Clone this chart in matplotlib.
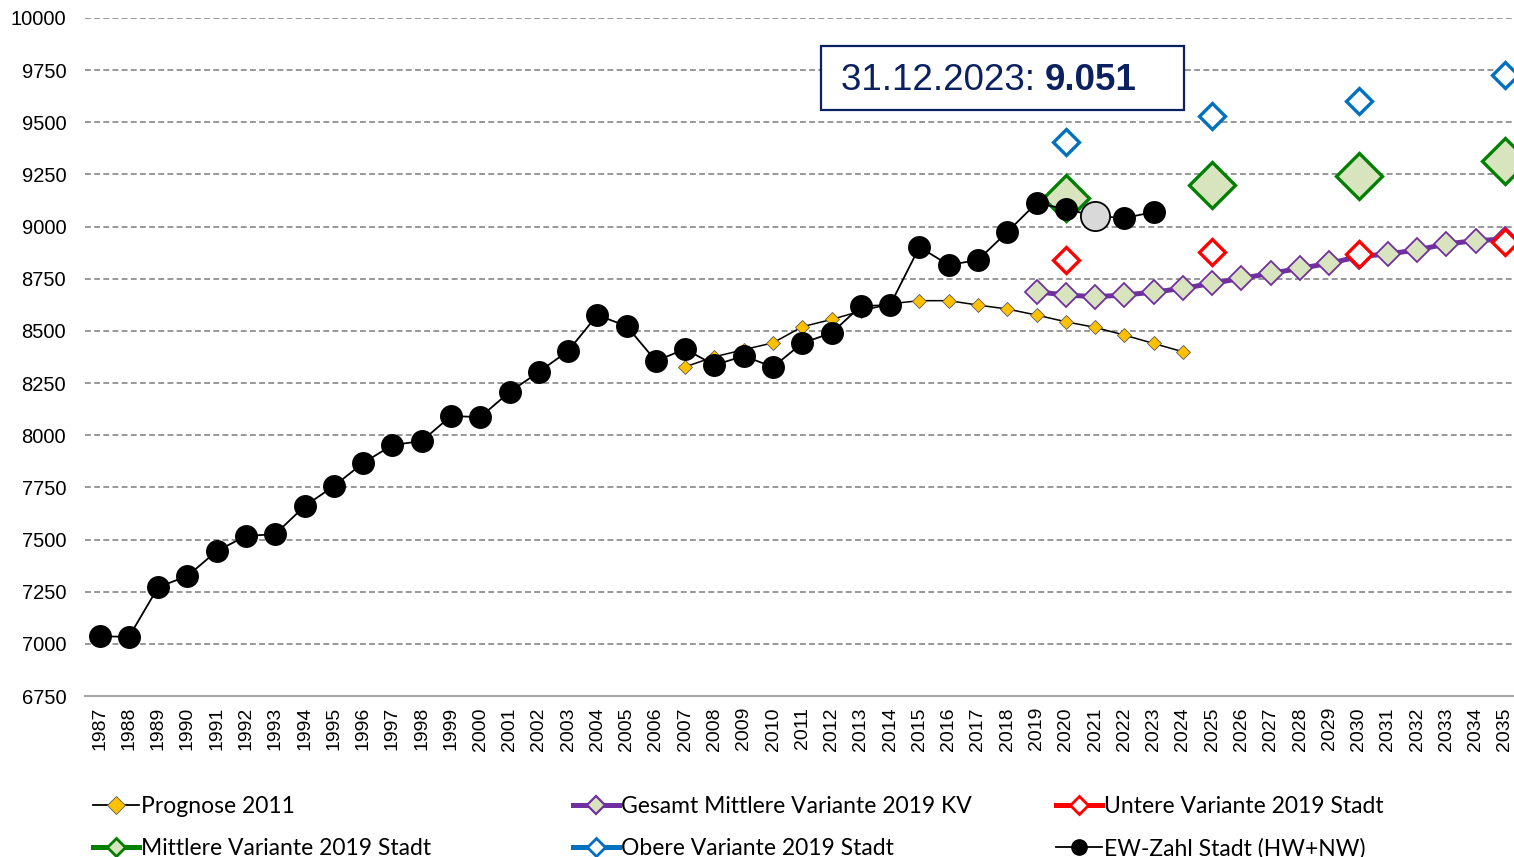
import matplotlib
matplotlib.use("Agg")
import matplotlib.pyplot as plt
from matplotlib.lines import Line2D
from matplotlib.patches import Rectangle

# ---------------- data ----------------
years = list(range(1987, 2036))

ew_years = list(range(1987, 2024))
ew_values = [7037, 7033, 7272, 7325, 7445, 7517, 7526, 7660, 7756, 7867,
             7953, 7972, 8092, 8087, 8207, 8303, 8404, 8576, 8523, 8356,
             8413, 8336, 8380, 8327, 8442, 8490, 8619, 8624, 8902, 8816,
             8840, 8974, 9113, 9084, 9051, 9041, 9070]
ew_highlight_year = 2021

prog_years = list(range(2007, 2025))
prog_values = [8328, 8376, 8410, 8443, 8520, 8555, 8595, 8630, 8645, 8645,
               8624, 8605, 8576, 8544, 8517, 8480, 8440, 8400]

kv_years = list(range(2019, 2036))
kv_values = [8688, 8672, 8664, 8672, 8686, 8704, 8728, 8752, 8776, 8800,
             8824, 8856, 8869, 8888, 8917, 8933, 8940]

var_years = [2020, 2025, 2030, 2035]
untere_values = [8840, 8877, 8867, 8928]
mittlere_values = [9135, 9198, 9245, 9315]
obere_values = [9405, 9530, 9604, 9727]

ytick_values = list(range(6750, 10001, 250))
annot_prefix = "31.12.2023: "
annot_value = "9.051"

legend_labels = ["Prognose 2011", "Gesamt Mittlere Variante 2019 KV",
                 "Untere Variante 2019 Stadt", "Mittlere Variante 2019 Stadt",
                 "Obere Variante 2019 Stadt", "EW-Zahl Stadt (HW+NW)"]

# ---------------- style ----------------
c_yellow = "#ffc000"
c_purple = "#7030a0"
c_lgreen = "#d7e4bd"
c_red = "#ff0000"
c_green = "#008000"
c_blue = "#0070c0"
c_navy = "#0b2060"

W, H = 1514, 857
fig = plt.figure(figsize=(W / 100, H / 100), dpi=100)
ax = fig.add_axes([85 / W, 1 - 696 / H, (1519.6 - 85) / W, (696 - 18) / H])

ax.set_xlim(1986.5, 2035.5)
ax.set_ylim(6750, 10000)

# series
ax.plot(prog_years, prog_values, color="black", lw=1.1, marker="D", ms=7.5,
        mfc=c_yellow, mec="#5a5a5a", mew=0.6, zorder=3)
ax.plot(kv_years, kv_values, color=c_purple, lw=3.6, marker="D", ms=12.5,
        mfc=c_lgreen, mec=c_purple, mew=1.3, zorder=4)
ax.plot(var_years, untere_values, ls="none", marker="D", ms=13.5,
        mfc="white", mec=c_red, mew=2.4, zorder=5)
ax.plot(var_years, mittlere_values, ls="none", marker="D", ms=23,
        mfc=c_lgreen, mec=c_green, mew=2.4, zorder=5)
ax.plot(var_years, obere_values, ls="none", marker="D", ms=13.5,
        mfc="white", mec=c_blue, mew=2.4, zorder=5)
ax.plot(ew_years, ew_values, color="black", lw=1.3, marker="o", ms=15.5,
        mfc="black", mec="black", zorder=6)
hi = ew_years.index(ew_highlight_year)
ax.plot([ew_years[hi]], [ew_values[hi]], ls="none", marker="o", ms=21,
        mfc="#d9d9d9", mec="black", mew=1.3, zorder=7)

# axes styling
ax.set_yticks(ytick_values)
ax.set_yticklabels([str(v) for v in ytick_values], family="Liberation Sans",
                   fontsize=14.5)
ax.set_xticks(years)
ax.set_xticklabels([str(y) for y in years], rotation=90,
                   family="Liberation Sans", fontsize=14)
ax.tick_params(axis="both", length=0)
ax.tick_params(axis="y", pad=13.5)
ax.tick_params(axis="x", pad=8)
for s in ["left", "right", "top"]:
    ax.spines[s].set_visible(False)
ax.spines["bottom"].set_color("#a6a6a6")
ax.spines["bottom"].set_linewidth(1.5)
ax.yaxis.grid(True, ls=(0, (3.5, 2)), color="#868686", lw=1.2)
ax.set_axisbelow(True)

# annotation box
bx0, by0, bx1, by1 = 821, 46, 1184, 110
fig.patches.append(Rectangle((bx0 / W, 1 - by1 / H), (bx1 - bx0) / W,
                             (by1 - by0) / H, transform=fig.transFigure,
                             fill=True, facecolor="white", edgecolor=c_navy,
                             lw=1.6, zorder=10))
t1 = fig.text(841 / W, 1 - 81 / H, annot_prefix, family="Liberation Sans",
              fontsize=26.5, color=c_navy, va="center", ha="left", zorder=11)
fig.canvas.draw()
bb = t1.get_window_extent()
fig.text(bb.x1 / W, 1 - 81 / H, annot_value, family="Liberation Sans",
         fontsize=26.5, fontweight="bold", color=c_navy, va="center",
         ha="left", zorder=11)

# legend
h_prog = Line2D([], [], color="black", lw=1.3, marker="D", ms=9,
                mfc=c_yellow, mec="#5a5a5a", mew=0.6)
h_kv = Line2D([], [], color=c_purple, lw=3.6, marker="D", ms=9,
              mfc=c_lgreen, mec=c_purple, mew=1.6)
h_unt = Line2D([], [], color=c_red, lw=3.6, marker="D", ms=9,
               mfc="white", mec=c_red, mew=2)
h_mit = Line2D([], [], color=c_green, lw=3.6, marker="D", ms=9,
               mfc=c_lgreen, mec=c_green, mew=2)
h_obe = Line2D([], [], color=c_blue, lw=3.6, marker="D", ms=9,
               mfc="white", mec=c_blue, mew=2)
h_ew = Line2D([], [], color="black", lw=1.3, marker="o", ms=11,
              mfc="black", mec="black")

cols = [([h_prog, h_mit], [legend_labels[0], legend_labels[3]], 93),
        ([h_kv, h_obe], [legend_labels[1], legend_labels[4]], 573),
        ([h_unt, h_ew], [legend_labels[2], legend_labels[5]], 1056)]
for hs, ls_, xpx in cols:
    leg = fig.legend(hs, ls_, loc="upper left",
                     bbox_to_anchor=(xpx / W, 1 - 796 / H),
                     frameon=False, handlelength=2.0, handletextpad=0.1,
                     borderpad=0, borderaxespad=0, labelspacing=0.9,
                     prop={"family": "Lato", "size": 16.5})

fig.savefig("out.png", dpi=100)
